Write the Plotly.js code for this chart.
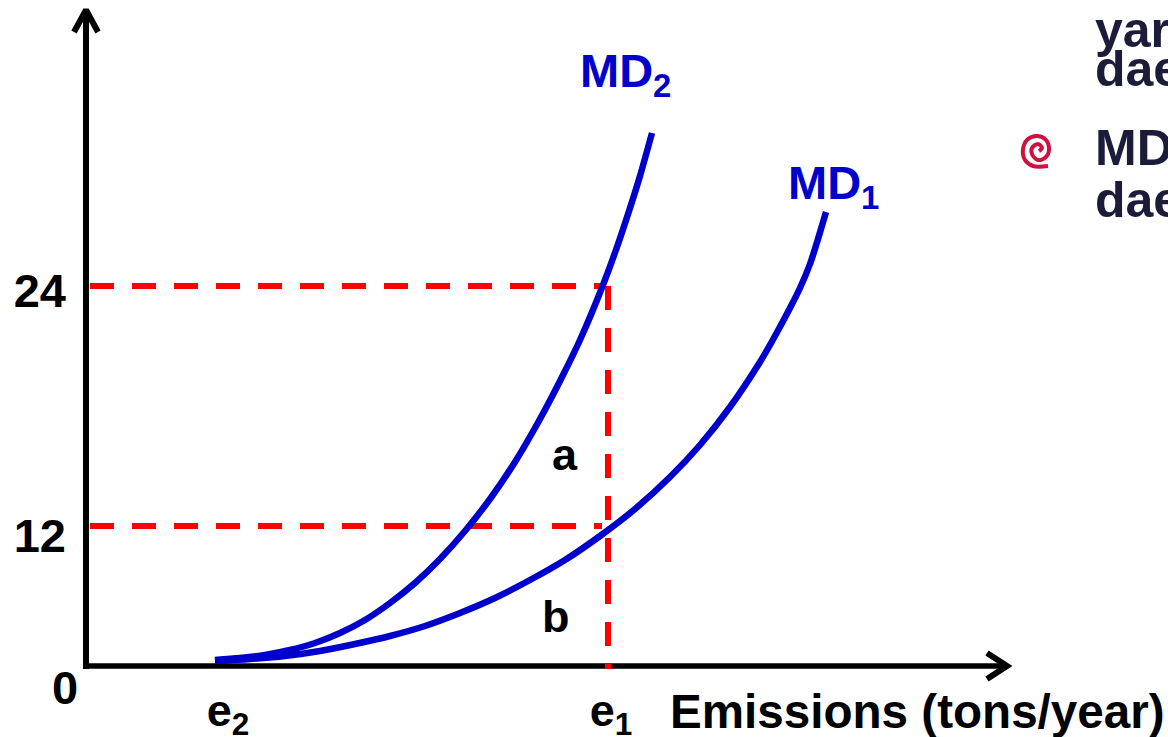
<!DOCTYPE html>
<html>
<head>
<meta charset="utf-8">
<script src="https://cdn.plot.ly/plotly-3.0.1.min.js"></script>
<style>html,body{margin:0;padding:0;background:#fff;overflow:hidden}</style>
</head>
<body>
<div id="chart" style="width:1168px;height:737px"></div>
<script>
// Schematic chart: the axes have no numeric scale, so values are read as offsets from the origin.
const md2X = [128,153,178,203,228,253,278,303,328,353,378,403,428,453,473,493,516,530,543,553,565];
const md2Y = [6,8,11,16,23,33,46,63,83,107,135,167,204,247,285,326,381,419,458,490,533];
const md1X = [128,163,198,233,268,303,338,373,408,443,478,513,548,583,613,643,673,688,703,713,723,731,739];
const md1Y = [5,7,10,15,22,30,40,53,68,86,106,130,157,189,221,259,304,330,358,378,402,427,454];
const priceTicks = [130,375];
const priceLabels = ['12','24'];
const emissionTicks = [141,524];
const emissionLabels = ['e<sub>2</sub>','e<sub>1</sub>'];
const e1 = 521, price12 = 140, price24 = 380;

const font = 'Liberation Sans, Arial, sans-serif';
const blue = '#0000cc', red = '#ff0000', ink = '#1c1c3a';
const L = 70, B = 47, W = 1168, H = 737;

function line(x, y, color, width, extra) {
  return {
    type:'scatter', mode:'lines', x:x, y:y, hoverinfo:'skip', showlegend:false,
    line:Object.assign({color:color, width:width}, extra||{})
  };
}
const traces = [
  line([-1,-1],[-3,655],'#000',6),
  line([-13,-1,11],[634,656,634],'#000',6),
  line([-4,920],[0,0],'#000',5.5),
  line([900,920,900],[13,0,-13],'#000',6),
  line([3,515],[price24,price24],red,6,{dash:'24px,18px'}),
  line([3,515],[price12,price12],red,6,{dash:'24px,18px'}),
  line([e1,e1],[price24,-3],red,6,{dash:'24px,18px'}),
  line(md2X,md2Y,blue,6.5,{shape:'spline',smoothing:0.8}),
  line(md1X,md1Y,blue,6.5,{shape:'spline',smoothing:0.8}),
  line([952,955,951,945,945,951,959,962,959,951,941,936,938,946,961],
       [515,518,522,518,512,506,509,516,526,530,527,517,506,500,500],'#d0103f',4,{shape:'spline',smoothing:1})
];
function note(text, px, py, color, size, anchor) {
  return {text:'<b>'+text+'</b>', x:(px-L)/(W-L), y:(H-B-py)/(H-B), xref:'paper', yref:'paper', showarrow:false,
    xanchor:anchor||'center', yanchor:'middle', align:'left', font:{family:font, size:size, color:color}};
}
const layout = {
  width:W, height:H, margin:{l:L,r:0,t:0,b:B,pad:0},
  paper_bgcolor:'#fff', plot_bgcolor:'#fff', showlegend:false,
  xaxis:{range:[-17,1081], showgrid:false, zeroline:false, showline:false, ticks:'',
    tickmode:'array', tickvals:emissionTicks, ticktext:emissionLabels, ticklabelstandoff:-10,
    tickfont:{family:font,size:45,color:'#000',weight:'bold'}},
  yaxis:{range:[-24,666], showgrid:false, zeroline:false, showline:false, ticks:'',
    tickmode:'array', tickvals:priceTicks, ticktext:priceLabels, ticklabelstandoff:3,
    tickfont:{family:font,size:47,color:'#000',weight:'bold'}},
  annotations:[
    note('0',65,687,'#000',47),
    note('Emissions (tons/year)',668,711,'#000',47.6,'left'),
    note('a',565,454,'#000',45),
    note('b',556,616,'#000',45),
    note('MD<sub>2</sub>',578,74,blue,47,'left'),
    note('MD<sub>1</sub>',786,186,blue,47,'left'),
    note('yar',1093,30,ink,50,'left'),
    note('dae',1093,69,ink,50,'left'),
    note('MD',1093,148,ink,50,'left'),
    note('dae',1093,200,ink,50,'left')
  ]
};
Plotly.newPlot('chart', traces, layout, {displayModeBar:false, staticPlot:true});
</script>
</body>
</html>
